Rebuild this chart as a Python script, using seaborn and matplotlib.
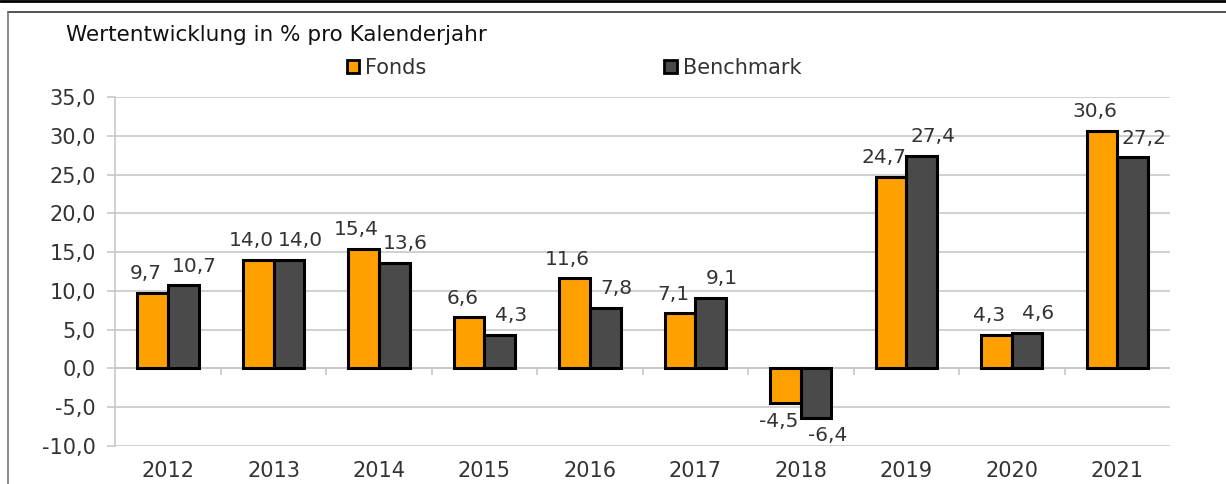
import pandas as pd
import numpy as np
import matplotlib.pyplot as plt
import seaborn as sns
from matplotlib.lines import Line2D
from matplotlib.patches import Patch

# Chart data
years = ['2012', '2013', '2014', '2015', '2016', '2017', '2018', '2019', '2020', '2021']
fonds = [9.7, 14.0, 15.4, 6.6, 11.6, 7.1, -4.5, 24.7, 4.3, 30.6]
benchmark = [10.7, 14.0, 13.6, 4.3, 7.8, 9.1, -6.4, 27.4, 4.6, 27.2]
series = ['Fonds', 'Benchmark']
y_ticks = [-10, -5, 0, 5, 10, 15, 20, 25, 30, 35]

ORANGE = '#FFA000'
DARK = '#4A4A4A'
TEXT = '#333333'
GRID = '#C8C8C8'
FS = 15

sns.set_theme(style="white")
plt.rcParams['font.family'] = ['DejaVu Sans']

df = pd.DataFrame({
    'Jahr': years * 2,
    'Wert': fonds + benchmark,
    'Serie': ['Fonds'] * len(years) + ['Benchmark'] * len(years),
})

fig = plt.figure(figsize=(12.26, 4.84), dpi=100)
ax = fig.add_axes([115.3 / 1226, 1 - 446 / 484, (1170 - 115.3) / 1226, (446 - 97) / 484])

sns.barplot(data=df, x='Jahr', y='Wert', hue='Serie', hue_order=series,
            palette=[ORANGE, DARK], width=0.58, gap=0, saturation=1,
            edgecolor='black', linewidth=2.2, legend=False, ax=ax, zorder=3)

ax.set_ylim(-10, 35)
ax.set_xlim(-0.5, len(years) - 0.5)
ax.set_yticks(y_ticks)
ax.set_yticklabels([f'{v:.1f}'.replace('.', ',') for v in y_ticks])
ax.set_xlabel('')
ax.set_ylabel('')
ax.grid(axis='y', color=GRID, linewidth=1.2, zorder=0)
ax.grid(axis='x', visible=False)
for s in ['top', 'right', 'bottom']:
    ax.spines[s].set_visible(False)
ax.spines['left'].set_color(GRID)
ax.spines['left'].set_linewidth(1.2)
ax.tick_params(axis='y', length=6, color=GRID, width=1.2, pad=8, labelsize=FS, labelcolor=TEXT, left=True)
ax.tick_params(axis='x', length=0, pad=11, labelsize=FS, labelcolor=TEXT)

# category separator ticks on the zero line
ax.axhline(0, color=GRID, linewidth=1.2, zorder=1)
ax.vlines(np.arange(len(years) - 1) + 0.5, 0, -0.8, color=GRID, linewidth=1.2, zorder=1)

# data labels
for container, dx in zip(ax.containers, [-5, 8]):
    for bar in container:
        h = bar.get_height()
        x = bar.get_x() + bar.get_width() / 2
        label = f'{h:.1f}'.replace('.', ',')
        if h >= 0:
            ax.annotate(label, (x, h), xytext=(dx, 7), textcoords='offset points',
                        ha='center', va='bottom', fontsize=14.5, color=TEXT)
        else:
            ax.annotate(label, (x, h), xytext=(dx, -6), textcoords='offset points',
                        ha='center', va='top', fontsize=14.5, color=TEXT)

# title and legend
fig.text(66 / 1226, 1 - 35 / 484, 'Wertentwicklung in % pro Kalenderjahr',
         fontsize=FS + 0.5, color='#111111', va='center', ha='left')
handles = [Patch(facecolor=ORANGE, edgecolor='black', linewidth=2),
           Patch(facecolor=DARK, edgecolor='black', linewidth=2)]
fig.legend(handles, series, loc='center', bbox_to_anchor=(574 / 1226, 1 - 68 / 484),
           ncol=2, frameon=False, fontsize=FS, handlelength=0.6, handleheight=0.6,
           handletextpad=0.3, columnspacing=11.4, labelcolor=TEXT)

# outer frame
fig.add_artist(Line2D([0, 1], [1 - 1 / 484, 1 - 1 / 484], color='black', linewidth=2))
fig.add_artist(Line2D([8 / 1226, 1], [1 - 12 / 484, 1 - 12 / 484], color='#333333', linewidth=1.2))
fig.add_artist(Line2D([8 / 1226, 8 / 1226], [0, 1 - 12 / 484], color='#777777', linewidth=1.2))

fig.savefig('out.png', dpi=100)
